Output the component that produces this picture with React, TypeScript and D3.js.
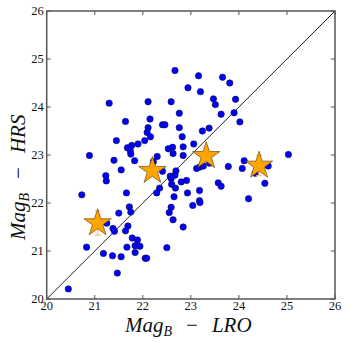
import React from 'react';
import * as d3 from 'd3';

// blue points: [LRO, HRS]
const lroMag = [
  22.67, 23.16, 22.94, 23.2, 21.3, 22.11, 22.59, 22.76, 22.15, 21.64, 22.41, 22.46, 22.11, 22.76,
  22.09, 22.16, 22.82, 21.45, 22.04, 21.9, 21.77, 21.68, 23.06, 22.53, 22.62, 22.84, 21.74, 21.75,
  20.89, 21.4, 21.83, 22.3, 22.63, 22.84, 23.66, 23.81, 23.47, 23.51, 23.93, 23.63, 23.9, 24.02,
  23.38, 23.24, 25.03, 22.22, 22.41, 22.69, 22.67, 22.57, 22.59, 22.6, 22.8, 22.91, 22.68, 22.35,
  22.29, 22.93, 23.18, 22.65, 23.18, 23.19, 23.04, 22.59, 22.55, 22.63, 22.84, 23.12, 23.19, 23.26,
  23.39, 23.57, 23.63, 23.78, 24.11, 24.07, 24.61, 24.34, 24.54, 24.2, 21.23, 21.24, 21.55, 21.66,
  20.73, 21.72, 21.75, 21.5, 21.25, 21.38, 21.41, 21.69, 21.64, 21.78, 21.89, 21.84, 21.94, 21.67,
  20.83, 21.84, 21.18, 21.37, 21.55, 22.05, 22.08, 22.5, 21.47, 20.45,
];
const hrsMag = [
  24.76, 24.65, 24.4, 24.32, 24.08, 24.11, 24.11, 23.87, 23.75, 23.7, 23.63, 23.63, 23.57, 23.57,
  23.47, 23.38, 23.38, 23.3, 23.3, 23.23, 23.2, 23.15, 23.23, 23.13, 23.16, 23.17, 23.09, 23.02,
  22.99, 22.89, 22.88, 22.97, 23.03, 22.99, 24.62, 24.5, 24.17, 24.05, 24.16, 23.85, 23.88, 23.69,
  23.56, 23.5, 23.01, 22.86, 22.66, 22.67, 22.58, 22.56, 22.51, 22.39, 22.44, 22.47, 22.31, 22.31,
  22.21, 22.21, 22.26, 22.13, 22.05, 22.01, 21.95, 21.91, 21.8, 21.65, 21.5, 22.72, 22.75, 22.77,
  22.83, 22.42, 22.35, 22.76, 22.88, 22.72, 22.77, 22.62, 22.41, 22.09, 22.57, 22.46, 22.69, 22.21,
  22.17, 21.92, 21.81, 21.79, 21.58, 21.47, 21.41, 21.52, 21.42, 21.27, 21.23, 21.11, 21.1, 21.08,
  21.08, 20.97, 20.95, 20.9, 20.88, 20.85, 20.85, 21.07, 20.54, 20.21,
];

// orange stars with error on HRS
const starLro = [21.06, 22.2, 23.32, 24.42];
const starHrs = [21.58, 22.67, 22.98, 22.78];
const starErr = [0.25, 0, 0, 0.21];

const ticks = [20, 21, 22, 23, 24, 25, 26];

const W = 349;
const H = 342;
const M = { left: 46.7, right: 335, top: 11, bottom: 299 };

function AxisLabel({ name }: { name: string }) {
  return (
    <>
      Mag<tspan fontSize={14} dy={4}>B</tspan>
      <tspan dy={-4} dx={14} fontStyle="normal">{'\u2212'}</tspan>
      <tspan dx={14}>{name}</tspan>
    </>
  );
}

export default function App() {
  const x = d3.scaleLinear().domain([20, 26]).range([M.left, M.right]);
  const y = d3.scaleLinear().domain([20, 26]).range([M.bottom, M.top]);
  const star = d3.symbol().type(d3.symbolStar).size(230)() as string;
  const serif = '"Liberation Serif", "DejaVu Serif", serif';

  return (
    <svg width={W} height={H} style={{ position: 'absolute', left: 0, top: 0, background: '#fff' }}>
      <line x1={x(20)} y1={y(20)} x2={x(26)} y2={y(26)} stroke="#222" strokeWidth={1} />
      {lroMag.map((d, i) => (
        <circle key={i} cx={x(d)} cy={y(hrsMag[i])} r={3.2} fill="#0000ff" stroke="#101040" strokeWidth={0.6} />
      ))}
      {starLro.map((d, i) =>
        starErr[i] > 0 ? (
          <g key={'e' + i} stroke="#fbbf6a" strokeWidth={1.2}>
            <line x1={x(d)} x2={x(d)} y1={y(starHrs[i] - starErr[i])} y2={y(starHrs[i] + starErr[i])} />
            <line x1={x(d) - 3} x2={x(d) + 3} y1={y(starHrs[i] - starErr[i])} y2={y(starHrs[i] - starErr[i])} />
            <line x1={x(d) - 3} x2={x(d) + 3} y1={y(starHrs[i] + starErr[i])} y2={y(starHrs[i] + starErr[i])} />
          </g>
        ) : null
      )}
      {starLro.map((d, i) => (
        <path key={'s' + i} d={star} transform={`translate(${x(d)},${y(starHrs[i])})`} fill="#ffa500" stroke="#553300" strokeWidth={0.6} />
      ))}
      <rect x={M.left} y={M.top} width={M.right - M.left} height={M.bottom - M.top} fill="none" stroke="#555" strokeWidth={1.5} />
      {ticks.map((t) => (
        <g key={t} stroke="#555" strokeWidth={1}>
          <line x1={x(t)} x2={x(t)} y1={M.bottom} y2={M.bottom - 4} />
          <line x1={x(t)} x2={x(t)} y1={M.top} y2={M.top + 4} />
          <line x1={M.left} x2={M.left + 4} y1={y(t)} y2={y(t)} />
          <line x1={M.right} x2={M.right - 4} y1={y(t)} y2={y(t)} />
        </g>
      ))}
      {ticks.map((t) => (
        <text key={'xt' + t} x={x(t)} y={309.5} textAnchor="middle" fontFamily={serif} fontSize={12.5} fill="#111">
          {t}
        </text>
      ))}
      {ticks.map((t) => (
        <text key={'yt' + t} x={M.left - 3} y={y(t) + 4} textAnchor="end" fontFamily={serif} fontSize={12.5} fill="#111">
          {t}
        </text>
      ))}
      <text x={125} y={332} fontFamily={serif} fontSize={21} fontStyle="italic" fill="#111">
        <AxisLabel name="LRO" />
      </text>
      <text transform="translate(25,240) rotate(-90)" fontFamily={serif} fontSize={21} fontStyle="italic" fill="#111">
        <AxisLabel name="HRS" />
      </text>
    </svg>
  );
}
